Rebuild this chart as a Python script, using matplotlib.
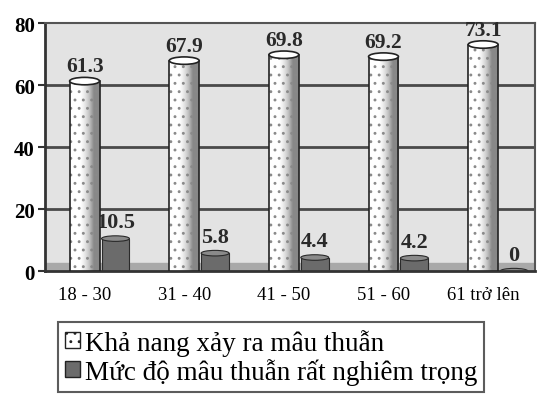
import numpy as np
import matplotlib
matplotlib.use("Agg")
import matplotlib.pyplot as plt
from matplotlib.patches import Ellipse, Patch

categories = ["18 - 30", "31 - 40", "41 - 50", "51 - 60", "61 trở lên"]
kha_nang = [61.3, 67.9, 69.8, 69.2, 73.1]
muc_do = [10.5, 5.8, 4.4, 4.2, 0]
yticks = [0, 20, 40, 60, 80]
series_names = ["Khả nang xảy ra mâu thuẫn", "Mức độ mâu thuẫn rất nghiêm trọng"]

plt.rcParams['font.family'] = ['Liberation Serif', 'DejaVu Serif']
plt.rcParams['hatch.linewidth'] = 0.9

fig = plt.figure(figsize=(5.59, 4.02), dpi=100)
ax = fig.add_axes([0.08, 0.323, 0.877, 0.617])
ax.set_facecolor('#e3e3e3')

x = np.arange(len(categories))
w1, w2 = 0.30, 0.28
off2 = 0.31

ax.set_xlim(-0.40, 4.52)
ax.set_ylim(0, 80)

# floor band
ax.axhspan(0, 2.6, color='#a9a9a9', zorder=1)
for g in [20, 40, 60]:
    ax.axhline(g, color='#4a4a4a', lw=2.0, zorder=1.5)

grad = np.linspace(0, 1, 64)
grad = np.vstack([np.clip((grad - 0.35) * 1.2, 0, 0.55)] * 2)

# dark bars (behind light)
for xi, v in zip(x, muc_do):
    xc = xi + off2
    ax.bar(xc, v, w2, color='#6b6b6b', edgecolor='#2a2a2a', lw=0.8, zorder=2)
    ax.add_patch(Ellipse((xc, v), w2, 1.8, facecolor='#8a8a8a',
                         edgecolor='#2a2a2a', lw=0.8, zorder=2.1))
    ax.text(xc, v + 2.0, f"{v:g}", ha='center', va='bottom', fontsize=16,
            fontweight='bold', color='#2a2a2a', zorder=2.2)

# light cylinders
for xi, v in zip(x, kha_nang):
    bars = ax.bar(xi, v, w1, color='white', edgecolor='none', zorder=3)
    im = ax.imshow(grad, extent=[xi - w1 / 2, xi + w1 / 2, 0, v], aspect='auto',
                   cmap='Greys', vmin=0, vmax=1, zorder=3.1)
    im.set_clip_path(bars[0])
    ax.bar(xi, v, w1, facecolor='none', edgecolor='#8a8a8a', hatch='..',
           lw=0, zorder=3.2)
    ax.bar(xi, v, w1, facecolor='none', edgecolor='#222222', lw=1.2, zorder=3.3)
    ax.add_patch(Ellipse((xi, v), w1, 2.4, facecolor='white',
                         edgecolor='#222222', lw=1.2, zorder=3.4))
    ax.text(xi, v + 1.6, f"{v:g}", ha='center', va='bottom', fontsize=15.5,
            fontweight='bold', color='#2a2a2a', zorder=4)

ax.set_xlim(-0.40, 4.52)
ax.set_ylim(0, 80)
ax.set_xticks(x)
ax.set_xticklabels(categories, fontsize=13.5)
ax.tick_params(axis='x', length=0, pad=11)
ax.set_yticks(yticks)
ax.set_yticklabels([str(t) for t in yticks], fontsize=15, fontweight='bold')
ax.tick_params(axis='y', length=5, width=1.5, pad=2, color='#333333')

for s in ['top', 'right']:
    ax.spines[s].set_visible(True)
    ax.spines[s].set_color('#555555')
    ax.spines[s].set_linewidth(1.5)
ax.spines['left'].set_linewidth(2)
ax.spines['left'].set_color('#333333')
ax.spines['bottom'].set_linewidth(2)
ax.spines['bottom'].set_color('#333333')

handles = [Patch(facecolor='white', edgecolor='#222222', hatch='..'),
           Patch(facecolor='#6b6b6b', edgecolor='#222222')]
leg = fig.legend(handles, series_names, loc='upper left',
                 bbox_to_anchor=(58 / 559, 1 - 323 / 402), fontsize=19.5,
                 borderaxespad=0,
                 frameon=True, fancybox=False, handlelength=0.55, handleheight=0.55,
                 handletextpad=0.2, borderpad=0.25, labelspacing=0.08)
leg.get_frame().set_edgecolor('#333333')
leg.get_frame().set_linewidth(1.5)

fig.savefig("out.png", dpi=100)
